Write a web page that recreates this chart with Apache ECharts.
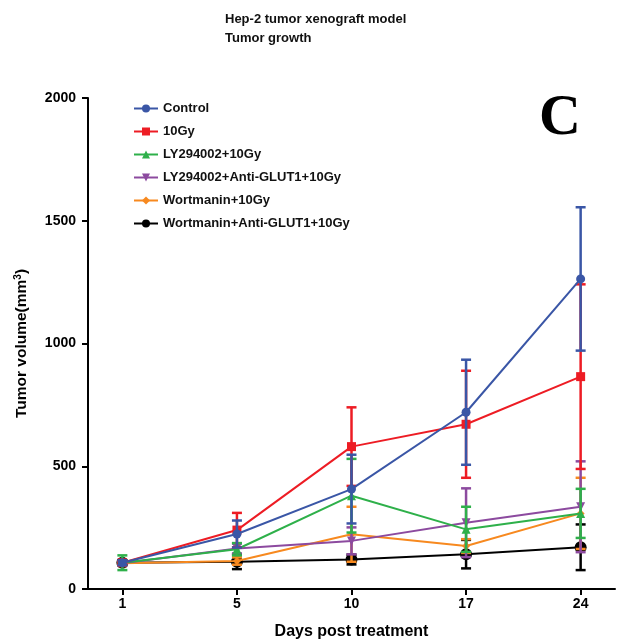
<!DOCTYPE html>
<html>
<head>
<meta charset="utf-8">
<script src="https://cdn.jsdelivr.net/npm/echarts@6/dist/echarts.min.js"></script>
<style>html,body{margin:0;padding:0;background:#fff;}#c{width:634px;height:639px;}</style>
</head>
<body>
<div id="c"></div>
<script>
var days = ['1', '5', '10', '17', '24'];
var groupNames = ['Control', '10Gy', 'LY294002+10Gy', 'LY294002+Anti-GLUT1+10Gy', 'Wortmanin+10Gy', 'Wortmanin+Anti-GLUT1+10Gy'];
var controlMean = [107, 224, 407, 720, 1263];
var controlErr  = [10, 55, 140, 214, 292];
var gy10Mean = [107, 240, 580, 671, 865];
var gy10Err  = [8, 70, 160, 218, 376];
var lyMean = [107, 162, 380, 243, 308];
var lyErr  = [30, 25, 150, 92, 100];
var lyGlutMean = [105, 165, 196, 270, 335];
var lyGlutErr  = [8, 20, 55, 140, 185];
var wortMean = [105, 114, 223, 175, 308];
var wortErr  = [5, 15, 112, 28, 145];
var wortGlutMean = [107, 111, 120, 142, 170];
var wortGlutErr  = [10, 30, 20, 58, 93];
var yTicks = [0, 500, 1000, 1500, 2000];

var colors = ['#3a56a6', '#ed1c24', '#2eb04a', '#8c4a9f', '#f7891f', '#000000'];
var symbols = ['circle', 'rect', 'triangle', 'path://M0,0 L10,0 L5,9 Z', 'diamond', 'circle'];
var symSizes = [9, 9, 9, 9, 8, 12];
var means = [controlMean, gy10Mean, lyMean, lyGlutMean, wortMean, wortGlutMean];
var errs = [controlErr, gy10Err, lyErr, lyGlutErr, wortErr, wortGlutErr];

var series = [];
groupNames.forEach(function (name, g) {
  var zBase = 20 - g * 2;
  series.push({
    name: name + ' SEM',
    type: 'custom',
    z: zBase,
    silent: true,
    data: means[g].map(function (m, i) { return [i, m - errs[g][i], m + errs[g][i]]; }),
    renderItem: (function (col) {
      return function (params, api) {
        var x = api.value(0);
        var top = api.coord([x, api.value(2)]);
        var bot = api.coord([x, api.value(1)]);
        var w = 5;
        var st = { stroke: col, lineWidth: 2.5 };
        return {
          type: 'group',
          children: [
            { type: 'line', shape: { x1: top[0], y1: top[1], x2: bot[0], y2: bot[1] }, style: st },
            { type: 'line', shape: { x1: top[0] - w, y1: top[1], x2: top[0] + w, y2: top[1] }, style: st },
            { type: 'line', shape: { x1: bot[0] - w, y1: bot[1], x2: bot[0] + w, y2: bot[1] }, style: st }
          ]
        };
      };
    })(colors[g])
  });
  series.push({
    name: name,
    type: 'line',
    z: zBase + 1,
    data: means[g].map(function (m, i) { return [i, m]; }),
    symbol: symbols[g],
    symbolSize: symSizes[g],
    showAllSymbol: true,
    lineStyle: { color: colors[g], width: 2 },
    itemStyle: { color: colors[g], borderWidth: 0 },
    animation: false
  });
});

var chart = echarts.init(document.getElementById('c'), null, { renderer: 'canvas' });
chart.setOption({
  animation: false,
  backgroundColor: '#ffffff',
  title: {
    text: 'Hep-2 tumor xenograft model\nTumor growth',
    left: 220, top: 5,
    textStyle: { fontFamily: 'Liberation Sans', fontSize: 13, fontWeight: 'bold', color: '#111', lineHeight: 19 }
  },
  graphic: [{
    type: 'text', left: 539, top: 90,
    style: { text: 'C', font: 'bold 58px "Liberation Serif"', fill: '#000' }
  }],
  legend: {
    orient: 'vertical',
    left: 128, top: 97,
    itemWidth: 24, itemHeight: 10, itemGap: 10,
    data: groupNames,
    textStyle: { fontFamily: 'Liberation Sans', fontSize: 13, fontWeight: 'bold', color: '#111', padding: [0, 0, 0, 0] }
  },
  grid: { left: 88, right: 19, top: 98, bottom: 50, outerBoundsMode: 'none', containLabel: false },
  xAxis: {
    type: 'value',
    min: -0.3, max: 4.3,
    splitLine: { show: false },
    axisLine: { lineStyle: { color: '#000', width: 2 } },
    axisTick: { show: true, length: 6, lineStyle: { color: '#000', width: 2 }, customValues: [0, 1, 2, 3, 4] },
    axisLabel: {
      customValues: [0, 1, 2, 3, 4],
      formatter: function (v) { return days[Math.round(v)]; },
      fontFamily: 'Liberation Sans', fontSize: 14, fontWeight: 'bold', color: '#000', margin: 8
    },
    name: 'Days post treatment',
    nameLocation: 'middle', nameGap: 35,
    nameTextStyle: { fontFamily: 'Liberation Sans', fontSize: 16, fontWeight: 'bold', color: '#000' }
  },
  yAxis: {
    type: 'value',
    min: 0, max: 2000, interval: 500,
    splitLine: { show: false },
    axisLine: { show: true, onZero: false, lineStyle: { color: '#000', width: 2 } },
    axisTick: { show: true, length: 6, lineStyle: { color: '#000', width: 2 } },
    axisLabel: {
      formatter: function (v) { return yTicks.indexOf(v) >= 0 ? String(v) : ''; },
      fontFamily: 'Liberation Sans', fontSize: 14, fontWeight: 'bold', color: '#000', margin: 12
    },
    name: '{a|Tumor volume(mm}{s|3}{a|)}',
    nameLocation: 'middle', nameRotate: 90, nameGap: 57,
    nameTextStyle: {
      rich: {
        a: { fontFamily: 'Liberation Sans', fontSize: 15.5, fontWeight: 'bold', color: '#000' },
        s: { fontFamily: 'Liberation Sans', fontSize: 10, fontWeight: 'bold', color: '#000', verticalAlign: 'top', padding: [0, 0, 8, 0] }
      }
    }
  },
  series: series
});
</script>
</body>
</html>
